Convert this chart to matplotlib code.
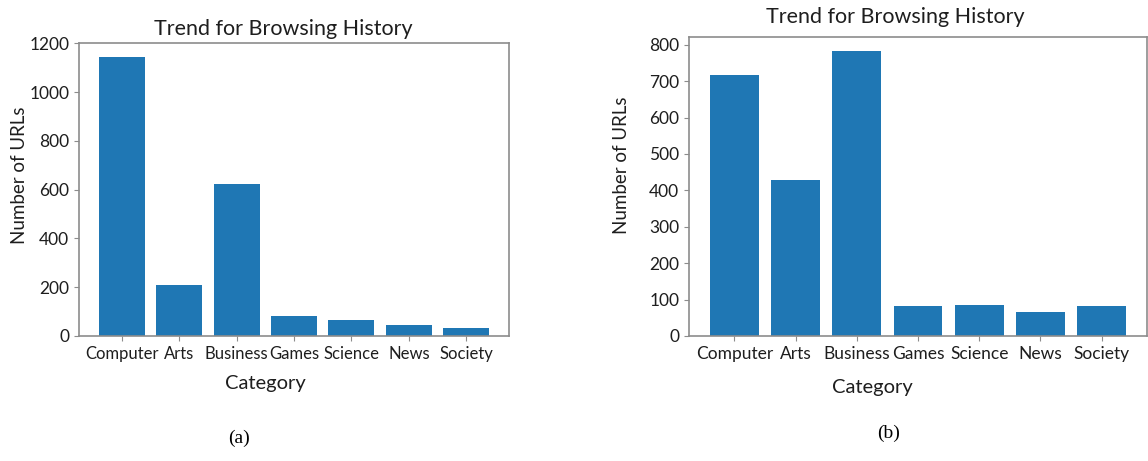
import matplotlib
matplotlib.use("Agg")
import matplotlib.pyplot as plt

plt.rcParams['font.family'] = ['Lato', 'DejaVu Sans']

categories = ['Computer', 'Arts', 'Business', 'Games', 'Science', 'News', 'Society']
urls_a = [1144, 210, 622, 82, 65, 44, 34]
urls_b = [718, 428, 782, 82, 86, 65, 82]
panel_tags = ['(a)', '(b)']

BAR = '#1f77b4'
TEXT = '#1e1e1e'
SPINE = '#8c8c8c'

fig = plt.figure(figsize=(11.48, 4.61), dpi=100)
W, H = 1148, 461


def px_axes(x0, y0, x1, y1):
    # pixel box (top-left origin) -> figure fraction
    return fig.add_axes([x0 / W, (H - y1) / H, (x1 - x0) / W, (y1 - y0) / H])


def draw(ax, values, yticks, xtick_size, title_x, title_pad, xlabel_xy, ylabel_xy):
    ax.bar(categories, values, width=0.8, color=BAR)
    ax.set_yticks(yticks)
    for s in ax.spines.values():
        s.set_color(SPINE)
        s.set_linewidth(1.2)
    ax.tick_params(colors=SPINE, labelcolor=TEXT, labelsize=12.5, length=3.5)
    ax.tick_params(axis='x', labelsize=xtick_size, pad=4)
    ax.set_title('Trend for Browsing History', fontsize=15.5, color=TEXT,
                 x=title_x, pad=title_pad)
    ax.set_xlabel('Category', fontsize=14.5, color=TEXT)
    ax.xaxis.set_label_coords(*xlabel_xy)
    ax.set_ylabel('Number of URLs', fontsize=13.5, color=TEXT)
    ax.yaxis.set_label_coords(*ylabel_xy)


ax1 = px_axes(79, 43, 509, 336)
draw(ax1, urls_a, range(0, 1201, 200), 12, 0.474, 6,
     (0.433, -0.133), (-0.118, 0.55))

ax2 = px_axes(689, 37, 1147, 336)
draw(ax2, urls_b, range(0, 801, 100), 12.5, 0.45, 10,
     (0.40, -0.144), (-0.129, 0.57))

fig.text(239 / W, 1 - 438 / H, panel_tags[0], ha='center', va='center',
         family='Liberation Serif', fontsize=14, color='black')
fig.text(889 / W, 1 - 433 / H, panel_tags[1], ha='center', va='center',
         family='Liberation Serif', fontsize=14, color='black')

fig.savefig('out.png', dpi=100, facecolor='white')
